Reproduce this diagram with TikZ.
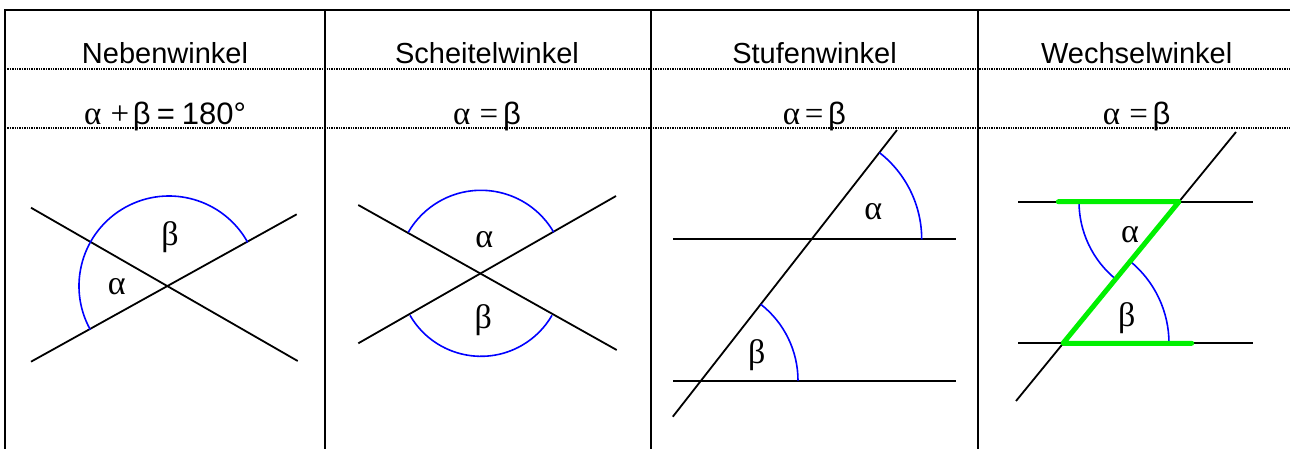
\documentclass[tikz,border=0pt]{standalone}
\usepackage{fontspec}
\setmainfont{Liberation Sans}
\newfontfamily\seriffont{Liberation Serif}
\definecolor{zgreen}{RGB}{0,240,0}
\begin{document}
\begin{tikzpicture}[x=1pt,y=-1pt,
  frame/.style={line width=2.2pt,line cap=rect},
  dotline/.style={line width=1.3pt,dash pattern=on 1.3pt off 1.1pt},
  geo/.style={line width=1.8pt,black},
  arcline/.style={line width=1.6pt,blue},
  zline/.style={line width=5pt,zgreen,line cap=round,line join=round},
  head/.style={font=\fontsize{29}{30}\selectfont,anchor=base,inner sep=0pt},
  formula/.style={font=\fontsize{31}{32}\selectfont,anchor=base,inner sep=0pt},
  glabel/.style={font=\seriffont\fontsize{34}{36}\selectfont,inner sep=0pt}]
\useasboundingbox (0,0) rectangle (1290,448);
% table
\draw[dotline] (5,69) -- (1290,69);
\draw[dotline] (5,128) -- (1290,128);
\draw[frame] (5,448) -- (5,10) -- (1292,10);
\draw[frame] (325,10) -- (325,448);
\draw[frame] (651,10) -- (651,448);
\draw[frame] (978,10) -- (978,448);
% headers
\node[head] (h1) at (165,63) {Nebenwinkel};
\node[head] (h2) at (487,63) {Scheitelwinkel};
\node[head] (h3) at (814.5,63) {Stufenwinkel};
\node[head] (h4) at (1136.7,63) {Wechselwinkel};
% formulas
\newcommand\sr[1]{{\seriffont\fontsize{33}{34}\selectfont #1}}
\node[formula] (f1) at (165,124) {\sr{α}\hspace{0.3em}\sr{+}\hspace{0.12em}β\hspace{0.2em}=\hspace{0.22em}180°};
\node[formula] (f2) at (487,124) {\sr{α}\hspace{0.3em}\sr{=}\hspace{0.15em}β};
\node[formula] (f3) at (814.5,124) {\sr{α}\hspace{0.15em}\sr{=}\hspace{0.15em}β};
\node[formula] (f4) at (1136.7,124) {\sr{α}\hspace{0.3em}\sr{=}\hspace{0.15em}β};
% column 1: Nebenwinkel
\coordinate (o1) at (169,286);
\draw[geo] (31,207.7) -- (297.7,361);
\draw[geo] (31,361.7) -- (296.7,214.3);
\draw[arcline] (o1) ++(-29:90) arc[start angle=-29,end angle=-209,radius=90];
\node[glabel] (b1) at (170,236.7) {β};
\node[glabel] (a1) at (116.7,286.7) {α};
% column 2: Scheitelwinkel
\coordinate (o2) at (481,274.3);
\draw[geo] (358.3,205) -- (616.7,350);
\draw[geo] (358.3,343.3) -- (616,196);
\draw[arcline] (o2) ++(-30:84) arc[start angle=-30,end angle=-150,radius=84];
\draw[arcline] (o2) ++(-210:82) arc[start angle=-210,end angle=-330,radius=82];
\node[glabel] (a2) at (484.3,240) {α};
\node[glabel] (b2) at (483.3,320) {β};
% column 3: Stufenwinkel
\coordinate (o3a) at (811.7,239.3);
\coordinate (o3b) at (701,380.7);
\draw[geo] (673.3,239.3) -- (955.7,239.3);
\draw[geo] (673.3,380.7) -- (955.7,380.7);
\draw[geo] (672.8,416.7) -- (897,130);
\draw[arcline] (o3a) ++(0:110) arc[start angle=0,end angle=-52,radius=110];
\draw[arcline] (o3b) ++(0:97) arc[start angle=0,end angle=-52,radius=97];
\node[glabel] (a3) at (873.3,211.7) {α};
\node[glabel] (b3) at (756.7,355) {β};
% column 4: Wechselwinkel
\coordinate (o4a) at (1179,201.7);
\coordinate (o4b) at (1063,343.3);
\draw[geo] (1018.3,201.7) -- (1252.7,201.7);
\draw[geo] (1018.3,343.3) -- (1252.7,343.3);
\draw[geo] (1016,401) -- (1236,132);
\draw[arcline] (o4a) ++(-180:100) arc[start angle=-180,end angle=-230.7,radius=100];
\draw[arcline] (o4b) ++(0:106) arc[start angle=0,end angle=-50.7,radius=106];
\draw[zline] (1058.3,201.7) -- (o4a) -- (o4b) -- (1191.7,343.3);
\node[glabel] (a4) at (1130,235) {α};
\node[glabel] (b4) at (1126.7,318.3) {β};
\end{tikzpicture}
\end{document}
